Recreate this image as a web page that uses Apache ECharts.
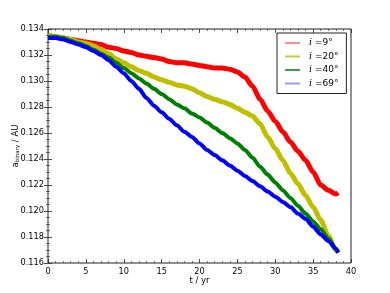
<!DOCTYPE html>
<html>
<head>
<meta charset="utf-8">
<script src="https://cdn.jsdelivr.net/npm/echarts@6/dist/echarts.min.js"></script>
<style>
html,body{margin:0;padding:0;background:#fff;}
#chart{width:390px;height:293px;}
</style>
</head>
<body>
<div id="chart"></div>
<script>
var tYears = [0,1,2,3,4,5,6,7,8,9,10,11,12,13,14,15,16,17,18,19,20,21,22,23,24,25,26,27,28,29,30,31,32,33,34,35,36,37,38,38.3];
var aIncl9 = [0.1335,0.1334,0.1333,0.1332,0.1331,0.1330,0.1329,0.1328,0.1326,0.1325,0.1323,0.1322,0.1320,0.1319,0.1318,0.1317,0.1315,0.1314,0.1314,0.1313,0.1312,0.1311,0.1310,0.1310,0.1309,0.1307,0.1303,0.1296,0.1286,0.1277,0.1269,0.1261,0.1253,0.1246,0.1239,0.1230,0.1220,0.1216,0.1213,0.1214];
var aIncl20 = [0.1335,0.1334,0.1333,0.1332,0.1330,0.1329,0.1327,0.1324,0.1321,0.1317,0.1314,0.1311,0.1308,0.1306,0.1303,0.1301,0.1299,0.1297,0.1296,0.1294,0.1291,0.1288,0.1286,0.1284,0.1282,0.1279,0.1276,0.1273,0.1267,0.1257,0.1248,0.1239,0.1229,0.1221,0.1212,0.1203,0.1193,0.1181,0.1170,0.1168];
var aIncl40 = [0.1334,0.1334,0.1333,0.1331,0.1329,0.1327,0.1324,0.1321,0.1318,0.1314,0.1310,0.1306,0.1302,0.1298,0.1294,0.1290,0.1286,0.1282,0.1279,0.1275,0.1272,0.1268,0.1264,0.1260,0.1256,0.1252,0.1247,0.1241,0.1234,0.1228,0.1222,0.1216,0.1210,0.1204,0.1198,0.1192,0.1186,0.1179,0.1171,0.1168];
var aIncl69 = [0.1333,0.1333,0.1332,0.1330,0.1328,0.1326,0.1323,0.1320,0.1316,0.1311,0.1306,0.1300,0.1294,0.1287,0.1281,0.1276,0.1271,0.1266,0.1261,0.1257,0.1252,0.1247,0.1243,0.1239,0.1235,0.1231,0.1227,0.1223,0.1219,0.1215,0.1211,0.1207,0.1203,0.1198,0.1194,0.1188,0.1182,0.1177,0.1171,0.1168];
var seriesNames = ['9','20','40','69'];
var xTicks = [0,5,10,15,20,25,30,35,40];
var yTicks = [0.116,0.118,0.120,0.122,0.124,0.126,0.128,0.130,0.132,0.134];

var colors = ['#ff0000','#bfbf00','#008000','#0000ff'];
var legendColors = ['rgba(255,0,0,0.45)','rgba(191,191,0,0.8)','rgba(0,128,0,0.75)','rgba(0,0,255,0.4)'];
var widths = [5,5,4,4];
var allVals = [aIncl9,aIncl20,aIncl40,aIncl69];

function pairs(vals){ return tYears.map(function(t,i){ return [t, vals[i]]; }); }

var FONT = 'DejaVu Sans';
var chart = echarts.init(document.getElementById('chart'), null, {renderer:'canvas'});

var series = seriesNames.map(function(n, k){
  return {
    name: n, type: 'line', data: pairs(allVals[k]), showSymbol: false, smooth: 0.25, smoothMonotone: 'x',
    lineStyle: {color: colors[k], width: widths[k]}, itemStyle: {color: colors[k]},
    emphasis: {disabled: true}, animation: false, xAxisIndex: 0, yAxisIndex: 0
  };
});

var commonTick = {show:true, inside:true, length:4, lineStyle:{color:'#222', width:0.8}};
var commonMinor = {show:true, length:2, lineStyle:{color:'#222', width:0.6}};

var option = {
  backgroundColor: '#fff',
  animation: false,
  grid: {left:48, right:39, top:29, bottom:30, show:true, borderColor:'#222', borderWidth:1, backgroundColor:'transparent', containLabel:false, outerBoundsMode:'none'},
  legend: {
    left: 277, top: 33, orient: 'vertical',
    padding: [5, 8, 5, 8], itemGap: 3.5, itemWidth: 15, itemHeight: 2,
    borderColor: '#222', borderWidth: 1, backgroundColor: '#fff',
    data: seriesNames.map(function(n,k){ return {name:n, icon:'rect', itemStyle:{color:legendColors[k]}}; }),
    formatter: function(n){ return '{it|i} =' + n + '°'; },
    textStyle: {fontFamily: FONT, fontSize: 9, color:'#000', padding:[0,0,0,4],
      rich: {it: {fontFamily:'DejaVu Serif', fontStyle:'italic', fontSize:9.5, color:'#000'}}},
    selectedMode: false
  },
  xAxis: [{
    type:'value', min:0, max:40, interval:5, position:'bottom',
    axisLine:{show:false}, splitLine:{show:false},
    axisTick: commonTick, minorTick: Object.assign({splitNumber:5}, commonMinor),
    axisLabel:{fontFamily:FONT, fontSize:8.2, color:'#000', margin:5,
      formatter:function(v){ return xTicks.indexOf(v) >= 0 ? String(v) : ''; }},
    name:'t / yr', nameLocation:'middle', nameGap:13, nameMoveOverlap:false,
    nameTextStyle:{fontFamily:FONT, fontSize:8.5, color:'#000'}
  },{
    type:'value', min:0, max:40, interval:5, position:'top',
    axisLine:{show:false}, splitLine:{show:false},
    axisTick: commonTick, minorTick: Object.assign({splitNumber:5}, commonMinor),
    axisLabel:{show:false}
  }],
  yAxis: [{
    type:'value', min:0.116, max:0.134, interval:0.002, position:'left',
    axisLine:{show:false}, splitLine:{show:false},
    axisTick: commonTick, minorTick: Object.assign({splitNumber:4}, commonMinor),
    axisLabel:{fontFamily:FONT, fontSize:8.2, color:'#000', margin:4,
      formatter:function(v){ return v.toFixed(3); }},
    name:'{a|a}{s|binary} / AU', nameLocation:'middle', nameGap:27, nameRotate:90, nameMoveOverlap:false,
    nameTextStyle:{fontFamily:FONT, fontSize:8.5, color:'#000',
      rich:{a:{fontFamily:FONT, fontSize:8.5, color:'#000'}, s:{fontFamily:FONT, fontSize:5.5, color:'#000', padding:[4,0,0,0]}}}
  },{
    type:'value', min:0.116, max:0.134, interval:0.002, position:'right',
    axisLine:{show:false}, splitLine:{show:false},
    axisTick: commonTick, minorTick: Object.assign({splitNumber:4}, commonMinor),
    axisLabel:{show:false}
  }],
  series: series
};
chart.setOption(option);
</script>
</body>
</html>
